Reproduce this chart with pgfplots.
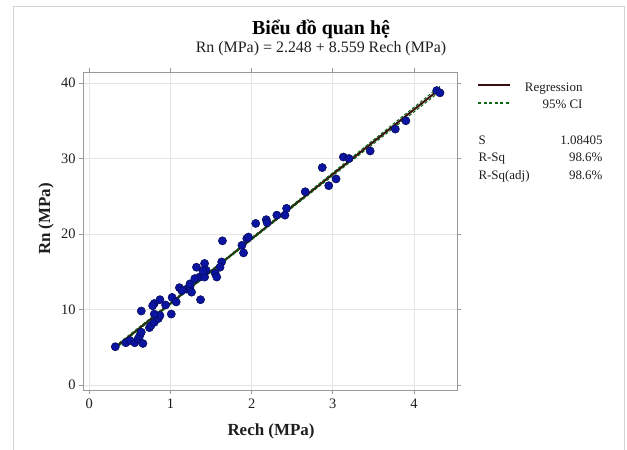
\documentclass[border=0pt]{standalone}
\usepackage{pgfplots}
\pgfplotsset{compat=1.18}
\usepackage{fontspec}
\setmainfont{Liberation Serif}
\definecolor{ptfill}{HTML}{0A14A0}
\definecolor{ptdraw}{HTML}{050A50}
\definecolor{regc}{HTML}{3A0E0E}
\definecolor{cic}{HTML}{0A6A14}
\definecolor{gridc}{HTML}{E4E4E4}
\definecolor{axc}{HTML}{9A9A9A}
\definecolor{framec}{HTML}{D4D4D4}
\definecolor{txtc}{HTML}{1E1E1E}
\begin{document}
\begin{tikzpicture}
\useasboundingbox (0,0) rectangle (627bp,450bp);
\draw[framec, line width=0.8bp] (13bp,0bp) -- (13bp,444bp) -- (624bp,444bp) -- (624bp,0bp);
\begin{axis}[
  at={(83bp,60bp)}, anchor=south west,
  scale only axis, width=374bp, height=318bp,
  xmin=-0.078, xmax=4.53, ymin=-0.66, ymax=41.46,
  xtick={0,1,2,3,4}, ytick={0,10,20,30,40},
  grid=major, major grid style={gridc, line width=0.8bp},
  axis line style={axc, line width=0.9bp},
  tick style={axc, line width=0.8bp},
  tick align=outside, major tick length=4bp,
  /pgf/number format/assume math mode=true,
  ticklabel style={font=\fontsize{14.5}{16}\selectfont, text=txtc},
  xticklabel style={yshift=-1bp},
  clip=false,
]
\addplot[regc, line width=2bp] coordinates {(0.32,4.987) (4.32,39.223)};
\addplot[cic, line width=1bp, dash pattern=on 3bp off 2bp] coordinates {
(0.32,4.80) (1.0,10.68) (1.6,15.82) (2.5,23.49) (3.5,31.94) (4.32,38.88)};
\addplot[cic, line width=1bp, dash pattern=on 3bp off 2bp] coordinates {
(0.32,5.18) (1.0,10.95) (1.6,16.06) (2.5,23.81) (3.5,32.46) (4.32,39.57)};
\addplot[only marks, mark=*, mark size=4.1bp, mark options={fill=ptfill, draw=ptdraw, line width=0.5bp}] table {
x y
0.32 5.07
0.45 5.6
0.50 5.9
0.56 5.6
0.60 6.1
0.62 6.5
0.66 5.5
0.64 7.0
0.64 9.8
0.74 7.6
0.76 7.9
0.80 8.3
0.85 8.8
0.87 9.2
0.80 9.4
0.80 10.8
0.87 11.3
0.94 10.6
1.01 9.4
1.02 11.6
1.07 11.0
1.11 12.9
1.20 12.7
1.24 13.0
1.26 12.3
1.37 11.3
1.36 14.3
1.42 14.3
1.44 15.2
1.55 14.8
1.32 15.6
1.42 16.1
1.24 13.4
1.14 12.5
0.78 10.5
1.30 14.1
1.40 15.1
1.57 14.3
1.63 16.3
1.61 15.6
1.64 19.1
1.88 18.5
1.90 17.5
1.94 19.4
1.96 19.6
2.05 21.4
2.18 21.9
2.19 21.5
2.31 22.5
2.41 22.5
2.43 23.4
2.66 25.6
2.87 28.8
2.95 26.4
3.04 27.3
3.13 30.2
3.20 30.0
3.46 31.0
3.77 33.9
3.90 35.0
4.28 39.0
4.32 38.7
};
\end{axis}
% titles
\node[anchor=base, text=black, font=\bfseries\fontsize{20}{22}\selectfont] at (321bp,415bp) {Biểu đồ quan hệ};
\node[anchor=base, text=txtc, font=\fontsize{16}{18}\selectfont] at (321bp,397bp) {Rn (MPa) = 2.248 + 8.559 Rech (MPa)};
\node[anchor=base, text=txtc, font=\bfseries\fontsize{17}{19}\selectfont] at (271bp,15bp) {Rech (MPa)};
\node[anchor=base, rotate=90, text=txtc, font=\bfseries\fontsize{17}{19}\selectfont] at (50bp,231bp) {Rn (MPa)};
% legend
\draw[regc, line width=2bp] (478bp,365bp) -- (510bp,365bp);
\draw[cic, line width=1.4bp, dash pattern=on 3bp off 2.5bp] (478bp,347bp) -- (510bp,347bp);
\node[anchor=base east, text=txtc, font=\fontsize{13}{15}\selectfont] at (586bp,358bp) {Regression};
\node[anchor=base east, text=txtc, font=\fontsize{13}{15}\selectfont] at (586bp,341bp) {95\% CI};
\node[anchor=base west, text=txtc, font=\fontsize{13}{15}\selectfont] at (475bp,305bp) {S};
\node[anchor=base west, text=txtc, font=\fontsize{13}{15}\selectfont] at (475bp,288bp) {R-Sq};
\node[anchor=base west, text=txtc, font=\fontsize{13}{15}\selectfont] at (475bp,270bp) {R-Sq(adj)};
\node[anchor=base east, text=txtc, font=\fontsize{13}{15}\selectfont] at (606bp,305bp) {1.08405};
\node[anchor=base east, text=txtc, font=\fontsize{13}{15}\selectfont] at (606bp,288bp) {98.6\%};
\node[anchor=base east, text=txtc, font=\fontsize{13}{15}\selectfont] at (606bp,270bp) {98.6\%};
\end{tikzpicture}
\end{document}
